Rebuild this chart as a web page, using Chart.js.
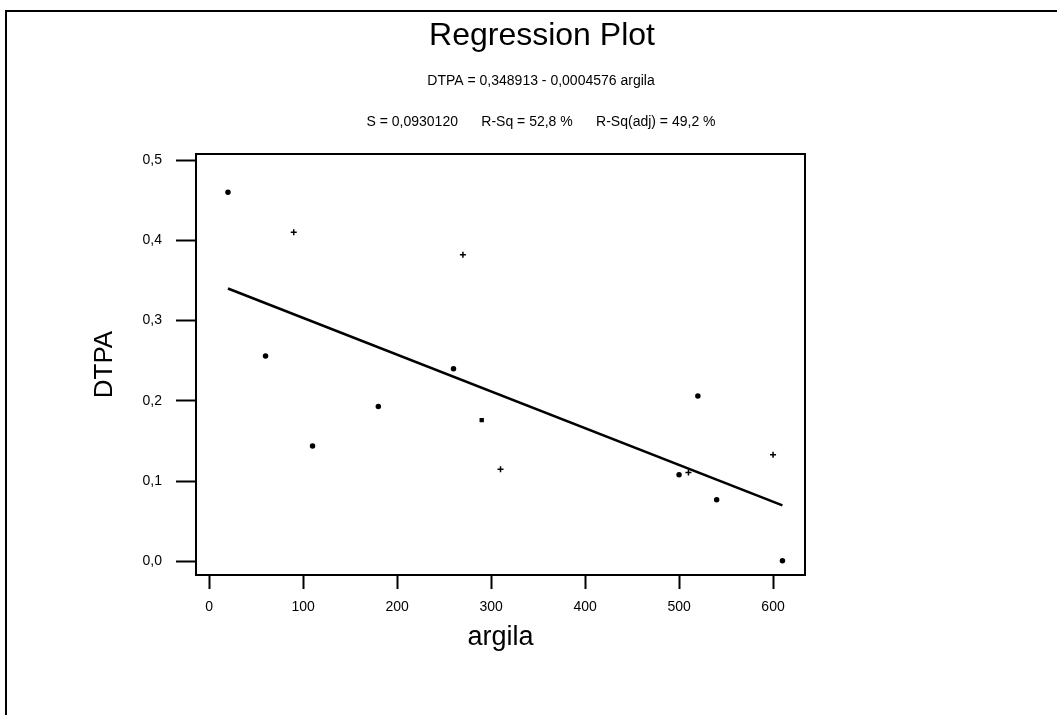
<!DOCTYPE html>
<html lang="pt">
<head>
<meta charset="utf-8">
<title>Regression Plot</title>
<script src="https://cdn.jsdelivr.net/npm/chart.js@4.4.1/dist/chart.umd.min.js"></script>
<style>
  html, body { margin: 0; padding: 0; background: #fff; overflow: hidden; }
  #wrap { position: relative; width: 1057px; height: 715px; overflow: hidden; }
  #frame {
    position: absolute; left: 5px; top: 10px; width: 1200px; height: 800px;
    border-top: 2px solid #000; border-left: 2px solid #000; pointer-events: none;
  }
</style>
</head>
<body>
<div id="wrap">
  <canvas id="regression-chart"></canvas>
  <div id="frame"></div>
</div>
<script>
(function () {
  'use strict';

  // valores
  var argila = [20, 60, 90, 110, 180, 260, 270, 290, 310, 500, 510, 520, 540, 600, 610];
  var dtpa = [0.46, 0.256, 0.41, 0.144, 0.193, 0.24, 0.382, 0.176, 0.115, 0.108, 0.111, 0.206, 0.077, 0.133, 0.001];

  // reta ajustada (extremos)
  var fitArgila = [20, 610];
  var fitDtpa = [0.34, 0.07];

  var xTicks = [0, 100, 200, 300, 400, 500, 600];
  var xTickLabels = ['0', '100', '200', '300', '400', '500', '600'];
  var yTicks = [0, 0.1, 0.2, 0.3, 0.4, 0.5];
  var yTickLabels = ['0,0', '0,1', '0,2', '0,3', '0,4', '0,5'];

  var titleText = 'Regression Plot';
  var equationText = 'DTPA = 0,348913 - 0,0004576 argila';
  var statsText = 'S = 0,0930120      R-Sq = 52,8 %      R-Sq(adj) = 49,2 %';

  var markers = ['circle', 'circle', 'cross', 'circle', 'circle', 'circle', 'cross', 'rect',
    'cross', 'circle', 'cross', 'circle', 'circle', 'cross', 'circle'];

  var FONT = '"Liberation Sans", Arial, sans-serif';

  function toPoints(xs, ys) {
    return xs.map(function (x, i) { return { x: x, y: ys[i] }; });
  }

  function fixedTicks(values) {
    return function (scale) {
      scale.ticks = values.map(function (v) { return { value: v }; });
    };
  }

  var headerPlugin = {
    id: 'header',
    afterDraw: function (chart) {
      var ctx = chart.ctx;
      var area = chart.chartArea;
      ctx.save();
      ctx.strokeStyle = '#000';
      ctx.lineWidth = 2;
      ctx.strokeRect(area.left, area.top, area.right - area.left, area.bottom - area.top);

      ctx.fillStyle = '#000';
      ctx.textAlign = 'center';
      ctx.textBaseline = 'middle';
      ctx.font = '32px ' + FONT;
      ctx.fillText(titleText, 542, 36);
      ctx.font = '14px ' + FONT;
      ctx.fillText(equationText, 541, 81);
      ctx.fillText(statsText, 541, 122);
      ctx.restore();
    }
  };

  Chart.defaults.font.family = FONT;
  Chart.defaults.color = '#000';

  new Chart(document.getElementById('regression-chart'), {
    type: 'scatter',
    data: {
      datasets: [{
        label: 'DTPA',
        data: toPoints(argila, dtpa),
        pointStyle: markers,
        pointRadius: function (c) { return markers[c.dataIndex] === 'cross' ? 3 : 2; },
        borderWidth: 1.5,
        borderColor: '#000',
        backgroundColor: '#000',
      }, {
        type: 'line',
        label: 'Regression',
        data: toPoints(fitArgila, fitDtpa),
        borderColor: '#000',
        borderWidth: 2.5,
        pointRadius: 0,
        fill: false,
      }],
    },
    options: {
      responsive: true,
      maintainAspectRatio: false,
      animation: false,
      layout: { padding: { left: 80, top: 154, right: 252, bottom: 50 } },
      plugins: {
        legend: { display: false },
        tooltip: { enabled: false },
      },
      scales: {
        x: {
          type: 'linear',
          min: -14,
          max: 634,
          afterBuildTicks: fixedTicks(xTicks),
          afterFit: function (scale) { scale.height = 90; },
          border: { display: false },
          grid: { drawOnChartArea: false, tickLength: 14, tickColor: '#000', tickWidth: 2 },
          ticks: {
            padding: 10,
            font: { size: 14 },
            callback: function (v, i) { return xTickLabels[i]; },
          },
          title: { display: true, text: 'argila', font: { size: 27 }, padding: { top: 0, bottom: 11 } },
        },
        y: {
          type: 'linear',
          min: -0.0168,
          max: 0.5075,
          afterBuildTicks: fixedTicks(yTicks),
          afterFit: function (scale) { scale.width = 116; },
          border: { display: false },
          grid: { drawOnChartArea: false, tickLength: 20, tickColor: '#000', tickWidth: 2 },
          ticks: {
            padding: 14,
            font: { size: 14 },
            callback: function (v, i) { return yTickLabels[i]; },
          },
          title: { display: true, text: 'DTPA', font: { size: 26 }, padding: { top: 9, bottom: 0 } },
        },
      },
    },
    plugins: [headerPlugin],
  });
})();
</script>
</body>
</html>
